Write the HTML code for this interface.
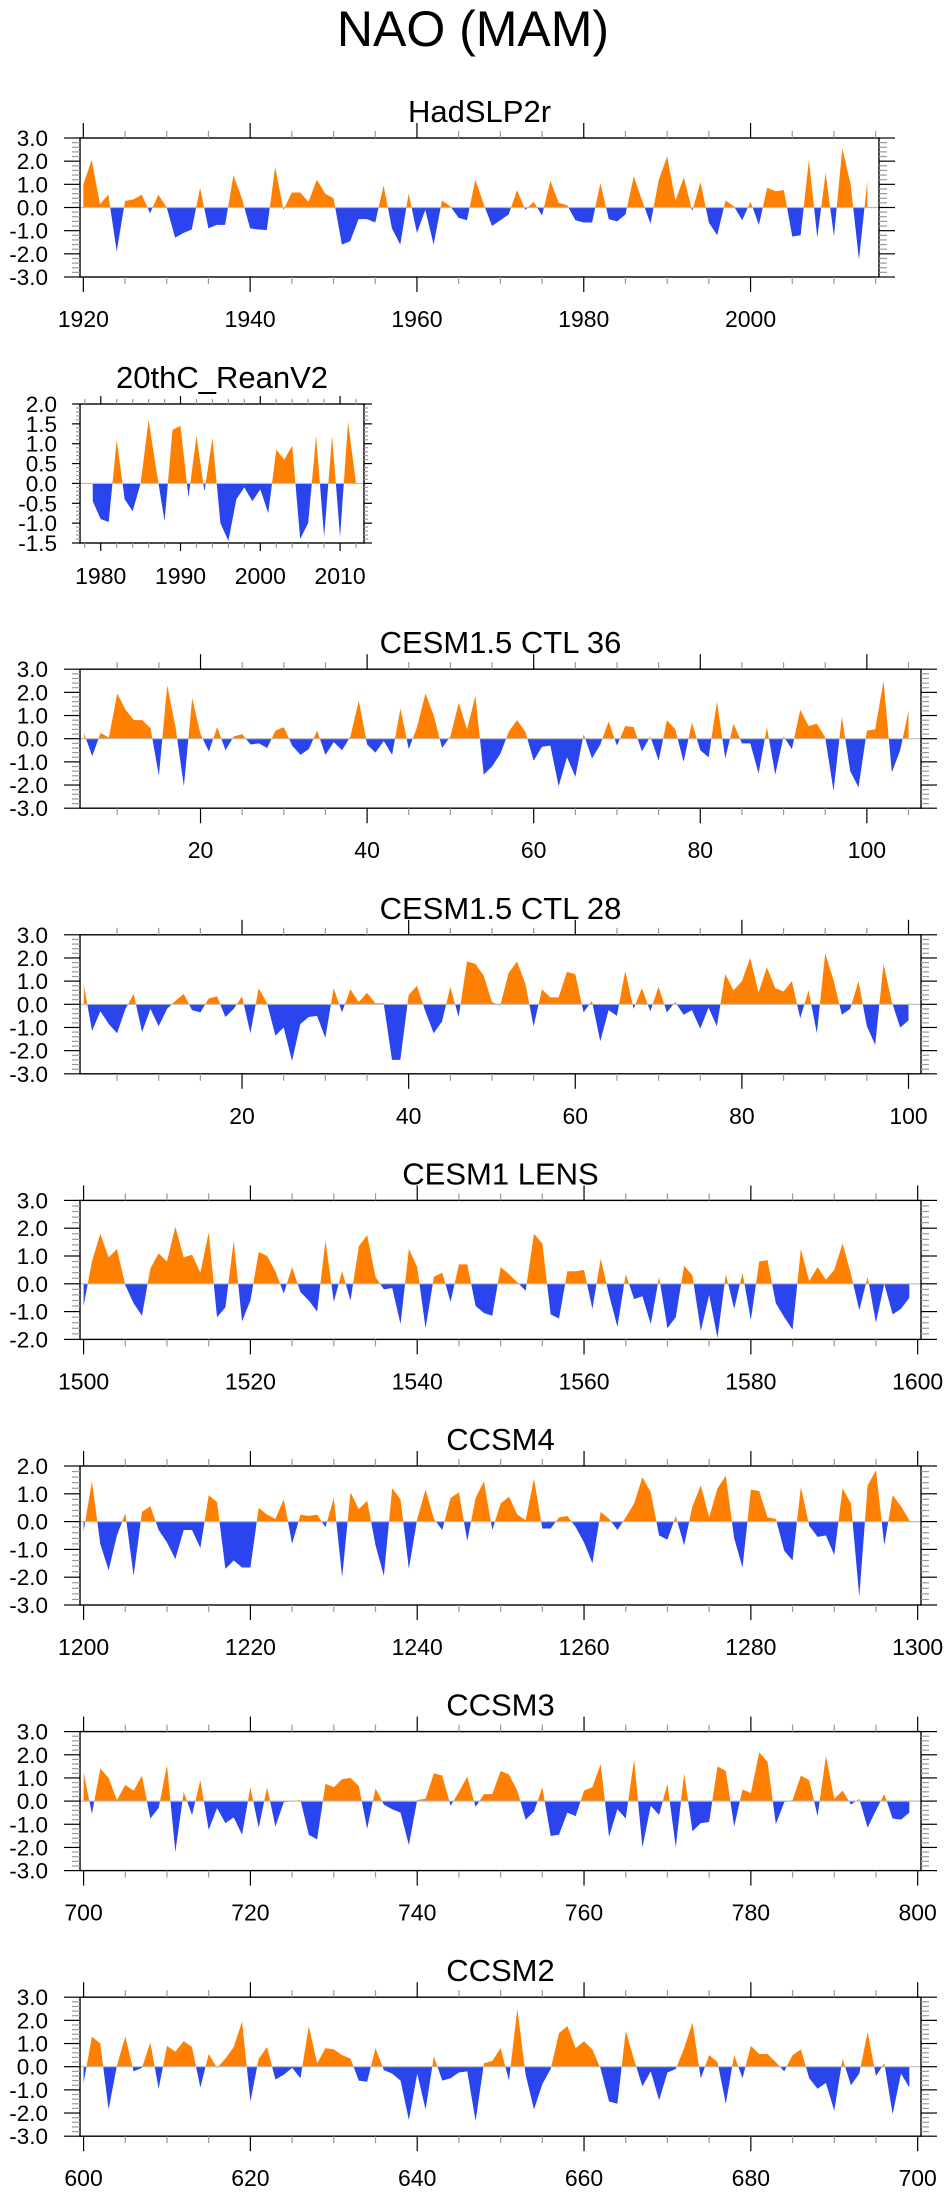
<!DOCTYPE html>
<html><head><meta charset="utf-8"><style>
html,body{margin:0;padding:0;background:#fff;}
svg{display:block;font-family:"Liberation Sans",Arial,sans-serif;}
</style></head><body>
<svg id="fig" width="946" height="2195" viewBox="0 0 946 2195" xmlns="http://www.w3.org/2000/svg">
<text x="473" y="46" font-size="50" text-anchor="middle">NAO (MAM)</text>
</svg>
<script>
// ---- data ----
const hadYears0 = 1920;
const hadValues = [1.0,2.05,0.15,0.55,-1.9,0.28,0.35,0.55,-0.25,0.55,0.0,-1.3,-1.1,-0.95,0.85,-0.9,-0.75,-0.75,1.4,0.4,-0.9,-0.95,-0.97,1.75,-0.1,0.65,0.65,0.25,1.2,0.6,0.4,-1.6,-1.45,-0.5,-0.5,-0.65,0.95,-0.9,-1.6,0.6,-1.1,-0.1,-1.6,0.3,0.05,-0.45,-0.55,1.2,0.15,-0.8,-0.55,-0.3,0.75,-0.1,0.25,-0.35,1.15,0.2,0.1,-0.55,-0.65,-0.65,1.05,-0.5,-0.6,-0.3,1.35,0.3,-0.7,1.2,2.2,0.3,1.3,-0.15,1.1,-0.65,-1.2,0.3,0.05,-0.55,0.25,-0.75,0.85,0.7,0.75,-1.25,-1.2,2.05,-1.3,1.5,-1.25,2.55,1.0,-2.25,1.15];
const reanYears0 = 1979;
const reanValues = [-0.45,-0.9,-0.97,1.1,-0.4,-0.7,0.0,1.6,0.3,-0.95,1.35,1.45,-0.35,1.2,-0.2,1.15,-1.0,-1.45,-0.4,-0.1,-0.45,-0.15,-0.75,0.85,0.6,0.95,-1.4,-1.0,1.2,-1.35,1.2,-1.35,1.55,0.0];
const ctl36Years0 = 6;
const ctl36Values = [0.25,-0.75,0.25,0.05,1.95,1.25,0.8,0.8,0.45,-1.6,2.3,0.5,-2.05,1.75,0.2,-0.55,0.5,-0.5,0.1,0.2,-0.25,-0.2,-0.4,0.35,0.5,-0.3,-0.7,-0.45,0.35,-0.7,-0.15,-0.5,0.1,1.65,-0.25,-0.6,-0.1,-0.7,1.3,-0.45,0.5,1.95,1.0,-0.4,0.1,1.55,0.4,1.85,-1.55,-1.2,-0.65,0.3,0.8,0.3,-0.95,-0.35,-0.3,-2.05,-0.8,-1.65,0.2,-0.85,-0.25,0.75,-0.3,0.55,0.5,-0.55,0.1,-0.95,0.8,0.4,-1.0,0.7,-0.5,-0.8,1.6,-0.85,0.65,-0.2,-0.2,-1.5,0.5,-1.55,0.1,-0.45,1.25,0.55,0.65,0.05,-2.25,0.95,-1.4,-2.1,0.35,0.4,2.5,-1.45,-0.5,1.2];
const ctl28Years0 = 1;
const ctl28Values = [0.85,-1.15,-0.3,-0.85,-1.25,-0.2,0.45,-1.2,-0.2,-0.95,-0.2,0.15,0.45,-0.25,-0.35,0.25,0.35,-0.55,-0.2,0.35,-1.25,0.7,0.05,-1.35,-1.0,-2.45,-0.85,-0.55,-0.5,-1.45,0.7,-0.35,0.65,0.1,0.5,0.05,0.05,-2.4,-2.4,0.4,0.8,-0.3,-1.25,-0.75,0.75,-0.55,1.85,1.75,1.25,0.1,-0.05,1.35,1.85,0.9,-0.95,0.65,0.3,0.3,1.4,1.3,-0.35,0.15,-1.6,-0.25,-0.5,1.45,-0.2,0.7,-0.3,0.75,-0.35,0.1,-0.45,-0.25,-1.05,-0.15,-0.95,1.3,0.6,1.0,2.0,0.5,1.6,0.7,0.55,1.0,-0.6,0.6,-1.25,2.2,1.05,-0.45,-0.2,1.0,-0.95,-1.75,1.75,0.1,-1.0,-0.7];
const lensYears0 = 1500;
const lensValues = [-0.8,0.8,1.8,0.95,1.25,-0.05,-0.7,-1.15,0.55,1.1,0.8,2.05,0.95,1.05,0.4,1.85,-1.2,-0.85,1.55,-1.35,-0.6,1.15,1.0,0.45,-0.35,0.6,-0.3,-0.6,-1.0,1.55,-0.65,0.45,-0.6,1.35,1.75,0.25,-0.2,-0.15,-1.45,1.25,0.6,-1.6,0.25,0.4,-0.65,0.7,0.7,-0.8,-1.05,-1.15,0.6,0.35,0.05,-0.25,1.8,1.45,-1.1,-1.25,0.45,0.45,0.5,-0.9,0.9,-0.4,-1.55,0.35,-0.55,-0.45,-1.45,0.25,-1.6,-1.2,0.65,0.3,-1.7,-0.4,-1.95,0.35,-0.9,0.4,-1.3,0.8,0.85,-0.7,-1.2,-1.65,1.25,0.1,0.6,0.15,0.5,1.45,0.35,-0.95,0.25,-1.4,0.0,-1.1,-0.9,-0.5];
const ccsm4Years0 = 1200;
const ccsm4Values = [-0.35,1.45,-0.8,-1.75,-0.5,0.3,-1.95,0.35,0.55,-0.3,-0.75,-1.35,-0.3,-0.3,-0.95,0.95,0.7,-1.7,-1.4,-1.65,-1.65,0.5,0.25,0.1,0.8,-0.8,0.25,0.2,0.25,-0.2,0.85,-2.0,1.05,0.45,0.75,-0.85,-1.95,1.2,0.8,-1.7,0.1,1.15,0.1,-0.3,0.85,1.05,-0.7,0.85,1.45,-0.3,0.65,0.9,0.25,0.05,1.55,-0.25,-0.25,0.15,0.2,-0.2,-0.75,-1.5,0.35,0.1,-0.3,0.15,0.65,1.6,1.05,-0.5,-0.65,0.2,-0.85,0.55,1.3,0.15,1.2,1.65,-0.6,-1.65,1.15,1.1,0.15,0.1,-1.05,-1.4,1.25,-0.15,-0.55,-0.5,-1.2,1.2,0.65,-2.7,1.3,1.85,-0.85,0.95,0.55,0.05];
const ccsm3Years0 = 700;
const ccsm3Values = [1.25,-0.55,1.4,1.0,0.05,0.7,0.45,1.1,-0.75,-0.3,1.55,-2.2,0.4,-0.6,0.9,-1.25,-0.3,-0.95,-0.7,-1.45,0.6,-1.15,0.6,-1.1,-0.05,0.0,0.05,-1.45,-1.65,0.75,0.6,0.95,1.0,0.65,-1.2,0.55,-0.15,-0.35,-0.5,-1.9,0.05,0.1,1.2,1.1,-0.2,0.4,1.05,-0.25,0.3,0.3,1.3,1.15,0.45,-0.8,-0.45,0.6,-1.5,-1.45,-0.5,-0.65,0.45,0.6,1.6,-1.55,-0.35,-0.75,1.8,-2.0,-0.2,-0.6,0.75,-2.0,1.2,-1.3,-0.95,-0.9,1.5,1.3,-1.1,0.5,0.35,2.1,1.7,-1.0,-0.05,0.05,1.1,0.9,-0.65,1.95,0.1,0.45,-0.15,0.1,-1.15,-0.4,0.3,-0.75,-0.8,-0.5];
const ccsm2Years0 = 600;
const ccsm2Values = [-0.7,1.3,1.0,-1.85,0.05,1.3,-0.2,-0.05,1.05,-0.95,0.9,0.65,1.1,0.85,-0.9,0.55,-0.05,0.35,0.85,1.95,-1.5,0.35,0.85,-0.55,-0.35,-0.05,-0.5,1.75,0.15,0.8,0.75,0.5,0.35,-0.6,-0.65,0.8,-0.15,-0.3,-0.6,-2.3,-0.3,-1.85,0.45,-0.6,-0.5,-0.25,-0.2,-2.35,0.15,0.25,0.8,-0.6,2.5,-0.35,-1.85,-0.75,-0.1,1.45,1.75,0.8,1.1,0.75,-0.1,-1.5,-1.6,1.55,0.3,-0.85,-0.2,-1.45,-0.25,-0.1,0.8,1.9,-0.5,0.5,0.2,-1.6,0.5,-0.5,0.9,0.55,0.55,0.2,-0.2,0.5,0.75,-0.5,-0.95,-0.7,-1.9,0.35,-0.8,-0.3,1.5,-0.4,0.15,-2.05,-0.3,-0.9];

const panelTitles = ["HadSLP2r","20thC_ReanV2","CESM1.5 CTL 36","CESM1.5 CTL 28","CESM1 LENS","CCSM4","CCSM3","CCSM2"];
const yTickLabels6 = ["-3.0","-2.0","-1.0","0.0","1.0","2.0","3.0"];
const yTickLabelsRean = ["-1.5","-1.0","-0.5","0.0","0.5","1.0","1.5","2.0"];
const yTickLabelsLens = ["-2.0","-1.0","0.0","1.0","2.0","3.0"];
const yTickLabelsCcsm4 = ["-3.0","-2.0","-1.0","0.0","1.0","2.0"];

const NS = "http://www.w3.org/2000/svg";
const svg = document.getElementById('fig');
function mk(tag, attrs, parent){
  const e = document.createElementNS(NS, tag);
  for (const k in attrs) e.setAttribute(k, attrs[k]);
  (parent||svg).appendChild(e);
  return e;
}
let clipId = 0;
function panel(o){
  const g = mk('g', {});
  
  
  const L=o.left, R=o.right, T=o.top, B=o.top+o.h;
  const sx = v => L + (v - o.xmin) / (o.xmax - o.xmin) * (R - L);
  const sy = v => B - (v - o.ymin) / (o.ymax - o.ymin) * (B - T);
  const vals = o.values;
  let d = 'M' + sx(o.y0) + ',' + sy(0);
  vals.forEach((v,i)=>{ d += 'L' + sx(o.y0+i).toFixed(2) + ',' + sy(v).toFixed(2); });
  d += 'L' + sx(o.y0+vals.length-1) + ',' + sy(0) + 'Z';
  const cid = 'c' + (clipId++);
  const defs = mk('defs', {}, g);
  const cp = mk('clipPath', {id: cid+'p'}, defs);
  mk('rect', {x:L, y:T, width:R-L, height:sy(0)-T}, cp);
  const cn = mk('clipPath', {id: cid+'n'}, defs);
  mk('rect', {x:L, y:sy(0), width:R-L, height:B-sy(0)}, cn);
  const pos = mk('path', {d:d, fill:'#ff8000', 'clip-path':'url(#'+cid+'p)'}, g);
  
  
  const neg = mk('path', {d:d, fill:'#2a44ee', 'clip-path':'url(#'+cid+'n)'}, g);
  
  
  const zl = mk('line', {x1:L, x2:R, y1:sy(0), y2:sy(0), stroke:'#bbbbbb', 'stroke-width':1.2}, g);
  
  
  const fr = mk('rect', {x:L, y:T, width:R-L, height:B-T, fill:'none', stroke:'#000', 'stroke-width':1.4}, g);
  
  
  for (let v = Math.ceil(o.xmin/o.xminor)*o.xminor; v <= o.xmax; v += o.xminor){
    const x = sx(v); const major = Math.abs(v % o.xmajor) < 1e-6;
    const len = major ? o.tmaj : o.tmin; const col = major ? '#000' : '#999';
    mk('line', {x1:x,x2:x,y1:B,y2:B+len,stroke:col,'stroke-width':1.2}, g);
    mk('line', {x1:x,x2:x,y1:T,y2:T-len,stroke:col,'stroke-width':1.2}, g);
    if (major){
      const t = mk('text', {x:x, y:B+o.labOff, 'font-size':23, 'text-anchor':'middle'}, g);
      t.textContent = String(v);
      
      
    }
  }
  const nMinor = Math.round((o.ymax-o.ymin)/o.yminor);
  for (let i=0;i<=nMinor;i++){
    const v = o.ymin + i*o.yminor; const y = sy(v);
    const major = Math.abs(((v - o.ymin)/o.ymajor) - Math.round((v - o.ymin)/o.ymajor)) < 1e-6;
    const len = major ? o.ytmaj : o.ytmin; const col = major ? '#000' : '#999';
    mk('line', {x1:L-len,x2:L,y1:y,y2:y,stroke:col,'stroke-width':1.2}, g);
    mk('line', {x1:R,x2:R+len,y1:y,y2:y,stroke:col,'stroke-width':1.2}, g);
  }
  o.ylabels.forEach((lab,i)=>{
    const t = mk('text', {x:o.ylabX, y:sy(o.ymin + i*o.ymajor)+8, 'font-size':22.5, 'text-anchor':'end'}, g);
    t.textContent = lab;
    
    
  });
  const tt = mk('text', {x:(L+R)/2, y:T-16, 'font-size':31, 'text-anchor':'middle'}, g);
  tt.textContent = o.title;
  
  
}
const step = 265.6;
const big = {left:80, right:921, h:139, tmaj:15, tmin:7, ytmaj:16, ytmin:8, xmajor:20, xminor:5, yminor:0.2, ymajor:1, labOff:50, ylabX:48};
panel(Object.assign({}, big, {name:'panel-hadslp2r', title:panelTitles[0], top:138, right:879, xmin:1919.6, xmax:2015.4, y0:hadYears0, values:hadValues, ymin:-3, ymax:3, ylabels:yTickLabels6}));
panel(Object.assign({}, big, {name:'panel-20thc-reanv2', title:panelTitles[1], top:404, right:364, xmin:1977.4, xmax:2013.0, y0:reanYears0, values:reanValues, ymin:-1.5, ymax:2, ymajor:0.5, yminor:0.1, ylabels:yTickLabelsRean, xmajor:10, xminor:2, tmaj:8, tmin:5, ytmaj:8, ytmin:4, labOff:41, ylabX:57}));
panel(Object.assign({}, big, {name:'panel-cesm15-ctl36', title:panelTitles[2], top:138+2*step, xmin:5.53, xmax:106.5, y0:ctl36Years0, values:ctl36Values, ymin:-3, ymax:3, ylabels:yTickLabels6}));
panel(Object.assign({}, big, {name:'panel-cesm15-ctl28', title:panelTitles[3], top:138+3*step, xmin:0.55, xmax:101.5, y0:ctl28Years0, values:ctl28Values, ymin:-3, ymax:3, ylabels:yTickLabels6}));
panel(Object.assign({}, big, {name:'panel-cesm1-lens', title:panelTitles[4], top:138+4*step, xmin:1499.57, xmax:1600.4, y0:lensYears0, values:lensValues, ymin:-2, ymax:3, ylabels:yTickLabelsLens}));
panel(Object.assign({}, big, {name:'panel-ccsm4', title:panelTitles[5], top:138+5*step, xmin:1199.57, xmax:1300.4, y0:ccsm4Years0, values:ccsm4Values, ymin:-3, ymax:2, ylabels:yTickLabelsCcsm4}));
panel(Object.assign({}, big, {name:'panel-ccsm3', title:panelTitles[6], top:138+6*step, xmin:699.57, xmax:800.4, y0:ccsm3Years0, values:ccsm3Values, ymin:-3, ymax:3, ylabels:yTickLabels6}));
panel(Object.assign({}, big, {name:'panel-ccsm2', title:panelTitles[7], top:138+7*step, xmin:599.57, xmax:700.4, y0:ccsm2Years0, values:ccsm2Values, ymin:-3, ymax:3, ylabels:yTickLabels6}));
</script>
</body></html>
